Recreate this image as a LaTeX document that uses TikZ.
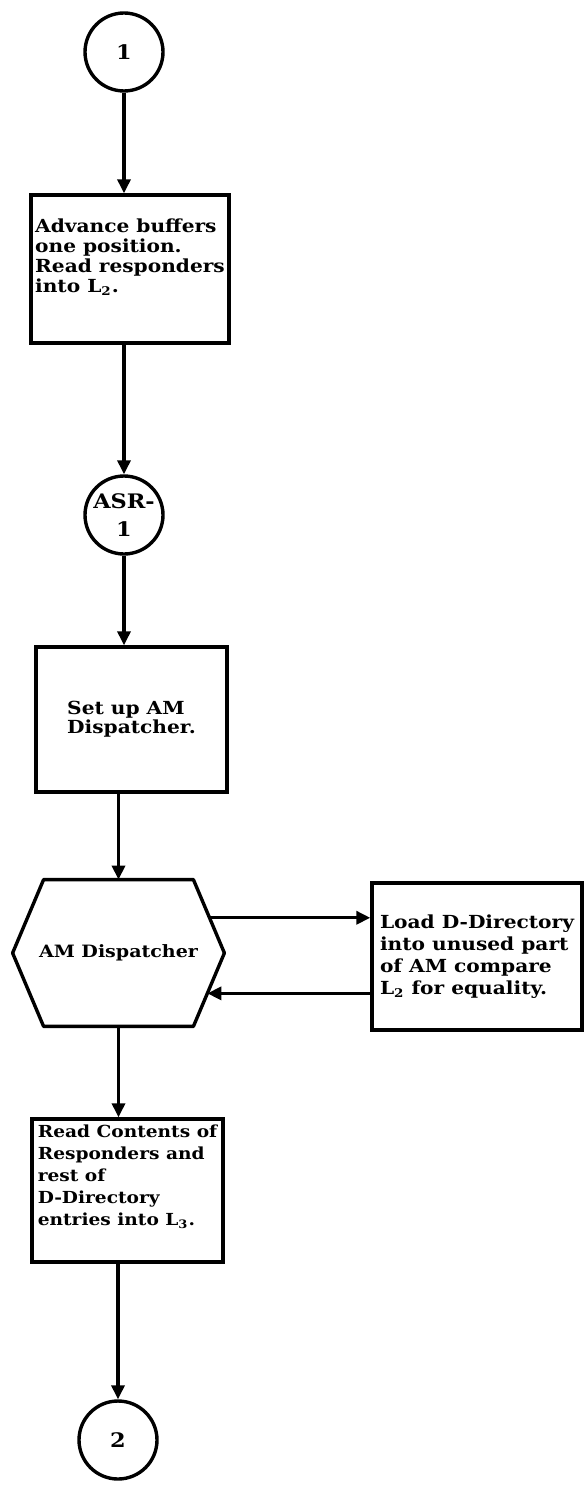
\documentclass[tikz,border=0pt]{standalone}
\usepackage{fontspec}
\setmainfont{DejaVu Serif}[FakeStretch=1.12]
\usetikzlibrary{arrows.meta,positioning,calc}
\tikzset{
  connector/.style={circle, draw=black, line width=1.7pt, minimum size=39pt, inner sep=0pt, font=\bfseries\fontsize{10}{14}\selectfont, align=center},
  procbox/.style={rectangle, draw=black, line width=1.7pt, inner sep=2pt, font=\bfseries\fontsize{9}{10}\selectfont, align=left},
  disptext/.style={rectangle, inner sep=0pt, font=\bfseries\fontsize{8.5}{9}\selectfont},
  hexline/.style={draw=black, line width=1.7pt, line join=round},
  flow/.style={-{Triangle[length=7pt,width=6.5pt]}, line width=1.7pt}
}

\begin{document}
\begin{tikzpicture}[x=0.5pt,y=-0.5pt]
  \useasboundingbox (0,0) rectangle (585,1487);
  \node[connector] (c1) at (124,52) {1};
  \node[procbox, minimum width=98pt, minimum height=74pt] (box1) at (130,269)
    {Advance buffers\\one position.\\Read responders\\into L\textsubscript{2}.\\[3pt]};
  \node[connector] (asr) at (124,515) {ASR-\\1};
  \node[procbox, minimum width=95.5pt, minimum height=72.5pt, font=\bfseries\fontsize{9}{9.5}\selectfont] (box2) at (131.5,719.5)
    {Set up AM\\Dispatcher.};
  \node[disptext, minimum width=105.5pt, minimum height=73pt] (disp) at (118.5,953) {AM Dispatcher};
  \node[procbox, minimum width=105pt, minimum height=73.5pt, font=\bfseries\fontsize{9}{11}\selectfont] (load) at (477,956.5)
    {Load D-Directory\\into unused part\\of AM compare\\L\textsubscript{2} for equality.};
  \node[procbox, minimum width=95.5pt, minimum height=71.5pt, font=\bfseries\fontsize{8.3}{11}\selectfont] (box3) at (127.5,1190.5)
    {Read Contents of\\Responders and\\rest of\\D-Directory\\entries into L\textsubscript{3}.\\[4pt]};
  \node[connector] (c2) at (118,1440) {2};

  % hexagon round the dispatcher
  \coordinate (hexnw) at ($(disp.north west)+(31,0)$);
  \coordinate (hexne) at ($(disp.north east)+(-31,0)$);
  \coordinate (hexse) at ($(disp.south east)+(-31,0)$);
  \coordinate (hexsw) at ($(disp.south west)+(31,0)$);
  \draw[hexline] (hexnw) -- (hexne) -- (disp.east) -- (hexse) -- (hexsw) -- (disp.west) -- cycle;
  \coordinate (hexout) at ($(hexne)!0.52!(disp.east)$);
  \coordinate (hexin) at ($(disp.east)!0.55!(hexse)$);

  % main flow
  \draw[flow] (c1) -- (c1 |- box1.north);
  \draw[flow] (box1.south -| asr) -- (asr);
  \draw[flow] (asr) -- (asr |- box2.north);
  \draw[flow] (box2.south -| disp) -- (disp.north);
  \draw[flow] (disp.south) -- (disp.south |- box3.north);
  \draw[flow] (box3.south -| c2) -- (c2);

  % loop to the directory box
  \draw[flow] (hexout) -- (hexout -| load.west);
  \draw[flow] (hexin -| load.west) -- (hexin);
\end{tikzpicture}
\end{document}
